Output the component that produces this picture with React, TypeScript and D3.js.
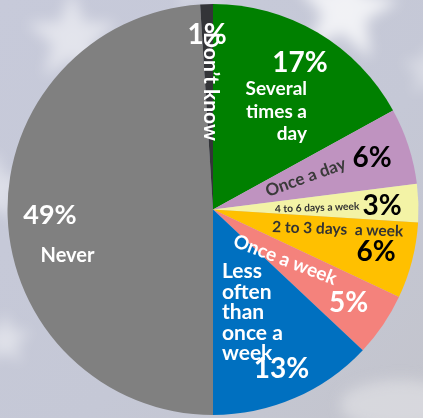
import React from 'react';
import * as d3 from 'd3';

// ---- data ----
const categories = [
  'Several times a day',
  'Once a day',
  '4 to 6 days a week',
  '2 to 3 days  a week',
  'Once a week',
  'Less often than once a week',
  'Never',
  'Don’t know',
];
const values = [17, 6, 3, 6, 5, 13, 49, 1];
const sliceColors = ['#008000', '#bf93c0', '#f3f3a6', '#ffc000', '#f4827c', '#0070c0', '#808080', '#333438'];
const categoryLines = [
  ['Several', 'times a', 'day'],
  ['Once a day'],
  ['4 to 6 days a week'],
  ['2 to 3 days  a week'],
  ['Once a week'],
  ['Less', 'often', 'than', 'once a', 'week'],
  ['Never'],
  ['Don’t know'],
];

// ---- layout ----
const W = 423;
const H = 418;
const CX = 213;
const CY = 209.5;
const R = 205.5;
const FONT = 'Lato, "Open Sans", sans-serif';

type NameLayout = { x: number; y: number; anchor: string; rotate: number; size: number; fill: string; lh: number };
type PctLayout = { x: number; y: number; size: number; fill: string };

const nameLayout: NameLayout[] = [
  { x: 307, y: 95, anchor: 'end', rotate: 0, size: 19, fill: '#ffffff', lh: 22.5 },
  { x: 268, y: 197, anchor: 'start', rotate: -20, size: 17, fill: '#3a3a3a', lh: 0 },
  { x: 275, y: 212.5, anchor: 'start', rotate: -2, size: 10.3, fill: '#333333', lh: 0 },
  { x: 272, y: 232, anchor: 'start', rotate: 2, size: 15.5, fill: '#333333', lh: 0 },
  { x: 232, y: 246, anchor: 'start', rotate: 21, size: 19, fill: '#ffffff', lh: 0 },
  { x: 222, y: 278, anchor: 'start', rotate: 0, size: 21, fill: '#ffffff', lh: 20.6 },
  { x: 67.5, y: 262, anchor: 'middle', rotate: 0, size: 20, fill: '#ffffff', lh: 0 },
  { x: 203.5, y: 32, anchor: 'start', rotate: 90, size: 21, fill: '#ffffff', lh: 0 },
];

const pctLayout: PctLayout[] = [
  { x: 300, y: 72, size: 28, fill: '#ffffff' },
  { x: 372, y: 167, size: 28, fill: '#000000' },
  { x: 382, y: 214.5, size: 28, fill: '#000000' },
  { x: 376, y: 260.5, size: 28, fill: '#000000' },
  { x: 348.5, y: 312, size: 28, fill: '#ffffff' },
  { x: 281.5, y: 377.5, size: 28, fill: '#ffffff' },
  { x: 50, y: 224, size: 27, fill: '#ffffff' },
  { x: 207, y: 44, size: 28, fill: '#ffffff' },
];

const starPath = (cx: number, cy: number, r: number, rot: number) => {
  const pts: [number, number][] = [];
  for (let i = 0; i < 10; i++) {
    const rr = i % 2 === 0 ? r : r * 0.42;
    const a = (rot + i * 36) * (Math.PI / 180) - Math.PI / 2;
    pts.push([cx + rr * Math.cos(a), cy + rr * Math.sin(a)]);
  }
  return d3.line()(pts) + 'Z';
};

const stars = [
  { x: 72, y: 38, r: 48, rot: 0, o: 0.5 },
  { x: 345, y: 10, r: 55, rot: 8, o: 0.75 },
  { x: -5, y: 190, r: 40, rot: 0, o: 0.4 },
  { x: 5, y: 340, r: 28, rot: 0, o: 0.45 },
  { x: 430, y: 70, r: 30, rot: 0, o: 0.35 },
  { x: 200, y: -20, r: 40, rot: 0, o: 0.3 },
];

export default function App() {
  const pie = d3
    .pie<number>()
    .sort(null)
    .value((d) => d)
    .startAngle(0)
    .endAngle(2 * Math.PI);
  const arcs = pie(values);
  const arc = d3.arc<d3.PieArcDatum<number>>().innerRadius(0).outerRadius(R);

  return (
    <svg
      width={W}
      height={H}
      viewBox={`0 0 ${W} ${H}`}
      style={{ position: 'absolute', left: 0, top: 0, display: 'block' }}
      fontFamily={FONT}
      fontWeight={700}
    >
      <defs>
        <linearGradient id="bg" x1="0" y1="0" x2="1" y2="1">
          <stop offset="0" stopColor="#c7cada" />
          <stop offset="0.6" stopColor="#c5c8d6" />
          <stop offset="1" stopColor="#c3c4cc" />
        </linearGradient>
        <filter id="blur" x="-50%" y="-50%" width="200%" height="200%">
          <feGaussianBlur stdDeviation="7" />
        </filter>
      </defs>
      <rect width={W} height={H} fill="url(#bg)" />
      <g filter="url(#blur)">
        {stars.map((s, i) => (
          <path key={i} d={starPath(s.x, s.y, s.r, s.rot)} fill="#ffffff" opacity={s.o} />
        ))}
        <ellipse cx={400} cy={405} rx={60} ry={25} fill="#e4e4e8" opacity={0.6} />
      </g>
      <g transform={`translate(${CX},${CY})`}>
        {arcs.map((a, i) => (
          <path key={categories[i]} d={arc(a) || ''} fill={sliceColors[i]} />
        ))}
      </g>
      {categoryLines.map((lines, i) => {
        const L = nameLayout[i];
        return (
          <text
            key={'n' + i}
            transform={`translate(${L.x},${L.y}) rotate(${L.rotate})`}
            textAnchor={L.anchor}
            fontSize={L.size}
            fill={L.fill}
            style={{ whiteSpace: 'pre' }}
          >
            {lines.map((ln, j) => (
              <tspan key={j} x={0} y={j * L.lh}>
                {ln}
              </tspan>
            ))}
          </text>
        );
      })}
      {values.map((v, i) => {
        const P = pctLayout[i];
        return (
          <text key={'p' + i} x={P.x} y={P.y} textAnchor="middle" fontSize={P.size} fill={P.fill}>
            {`${v}%`}
          </text>
        );
      })}
    </svg>
  );
}
